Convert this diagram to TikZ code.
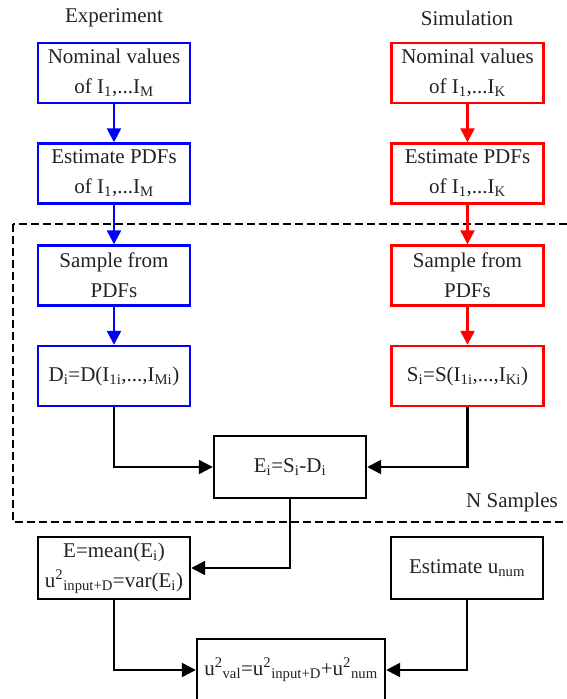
\documentclass[tikz,border=0pt]{standalone}
\usepackage{fontspec}
\setmainfont{Liberation Serif}
\usetikzlibrary{arrows.meta}
\definecolor{txt}{HTML}{222222}
\begin{document}
\begin{tikzpicture}[x=1pt,y=-1pt,
  font=\fontsize{21}{30}\selectfont,
  box/.style={draw, line width=2.4pt, rectangle, minimum width=152pt, minimum height=60pt, align=center, inner sep=2pt, text=txt},
  bluebox/.style={box, draw=blue},
  redbox/.style={box, draw=red},
  blackbox/.style={box, draw=black, minimum height=62pt},
  conn/.style={line width=2.4pt, -{Triangle[length=14pt,width=14pt]}},
  bconn/.style={conn, draw=blue},
  rconn/.style={conn, draw=red},
  kconn/.style={conn, draw=black},
  lbl/.style={text=txt, inner sep=0pt}
]
\useasboundingbox (0,0) rectangle (567,699);
% titles
\node[lbl] (texp) at (114,18) {Experiment};
\node[lbl] (tsim) at (467,18) {Simulation};
% dashed region
\draw[line width=2.2pt, dash pattern=on 8pt off 4pt] (13,224) rectangle (580,522);
\node[lbl] (ns) at (512,502) {N Samples};
% experiment column
\node[bluebox] (b1) at (114,73) {Nominal values\\of I\textsubscript{1},...I\textsubscript{M}};
\node[bluebox] (b2) at (114,173.5) {Estimate PDFs\\of I\textsubscript{1},...I\textsubscript{M}};
\node[bluebox] (b3) at (114,275.5) {Sample from\\PDFs};
\node[bluebox] (b4) at (114,376) {D\textsubscript{i}=D(I\textsubscript{1i},...,I\textsubscript{Mi})};
% simulation column
\node[redbox] (r1) at (467.5,73) {Nominal values\\of I\textsubscript{1},...I\textsubscript{K}};
\node[redbox] (r2) at (467.5,173.5) {Estimate PDFs\\of I\textsubscript{1},...I\textsubscript{K}};
\node[redbox] (r3) at (467.5,275.5) {Sample from\\PDFs};
\node[redbox] (r4) at (467.5,376) {S\textsubscript{i}=S(I\textsubscript{1i},...,I\textsubscript{Ki})};
% black boxes
\node[blackbox] (ei) at (290,467) {E\textsubscript{i}=S\textsubscript{i}-D\textsubscript{i}};
\node[blackbox] (em) at (114,568) {E=mean(E\textsubscript{i})\\u\textsuperscript{2}\textsubscript{input+D}=var(E\textsubscript{i})};
\node[blackbox] (un) at (467,568) {Estimate u\textsubscript{num}};
\node[blackbox, minimum width=188pt] (uv) at (291,670) {u\textsuperscript{2}\textsubscript{val}=u\textsuperscript{2}\textsubscript{input+D}+u\textsuperscript{2}\textsubscript{num}};
% connectors
\draw[bconn] (b1) -- (b2);
\draw[bconn] (b2) -- (b3);
\draw[bconn] (b3) -- (b4);
\draw[rconn] (r1) -- (r2);
\draw[rconn] (r2) -- (r3);
\draw[rconn] (r3) -- (r4);
\draw[kconn] (b4.south) |- (ei.west);
\draw[kconn] (r4.south) |- (ei.east);
\draw[kconn] (ei.south) |- (em.east);
\draw[kconn] (em.south) |- (uv.west);
\draw[kconn] (un.south) |- (uv.east);
\end{tikzpicture}
\end{document}
